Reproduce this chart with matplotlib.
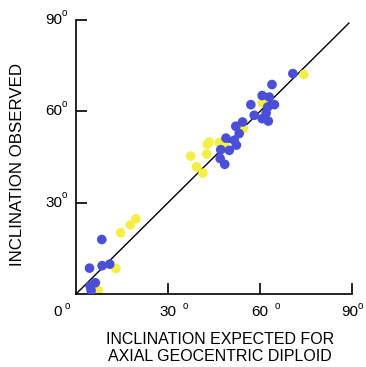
import matplotlib.pyplot as plt
from matplotlib.transforms import offset_copy

plt.rcParams['font.family'] = ['Liberation Sans', 'DejaVu Sans']

# expected vs observed inclination (degrees)
blue_expected = [70.7, 63.9, 60.7, 63.0, 57.0, 64.7, 62.5, 62.0, 58.1, 60.7, 62.7,
                 54.3, 52.1, 53.2, 48.9, 51.6, 52.3, 47.2, 50.0, 47.0, 48.5,
                 8.4, 4.4, 8.5, 11.0, 6.3, 4.6, 4.9]
blue_observed = [72.4, 68.8, 65.2, 64.7, 62.2, 62.2, 61.4, 59.4, 58.7, 57.6, 56.8,
                 56.5, 55.1, 52.7, 51.2, 50.5, 48.9, 47.4, 47.2, 44.5, 42.6,
                 17.9, 8.5, 9.3, 9.8, 3.7, 2.6, 1.2]
yellow_expected = [74.3, 60.7, 54.6, 43.4, 42.8, 46.7, 48.3, 37.4, 42.6, 39.3, 41.4,
                   14.5, 17.7, 19.5, 13.0, 7.2]
yellow_observed = [72.1, 62.8, 54.3, 49.9, 49.2, 49.7, 49.1, 45.3, 46.0, 41.8, 39.7,
                   20.1, 22.7, 24.7, 8.4, 1.2]
ticks = [30, 60, 90]

fig = plt.figure(figsize=(3.66, 3.67), dpi=100)
ax = fig.add_axes([0.2077, 0.1989, 0.7541, 0.7466])
ax.set_xlim(0, 90)
ax.set_ylim(0, 90)

ax.plot([0, 89], [0, 89], color='black', lw=1.0, zorder=1)
ax.scatter(yellow_expected, yellow_observed, s=48, color='#f3ef45', edgecolors='none', zorder=2)
ax.scatter(blue_expected, blue_observed, s=48, color='#4a4fd8', edgecolors='none', zorder=3)

for side in ['top', 'right']:
    ax.spines[side].set_visible(False)
for side in ['left', 'bottom']:
    ax.spines[side].set_linewidth(1.2)
ax.set_xticks(ticks)
ax.set_yticks(ticks)
ax.tick_params(direction='in', length=8, width=1.2, labelbottom=False, labelleft=False)


def label(x, y, txt, dx, dy, size, **kw):
    tr = offset_copy(ax.transData, fig=fig, x=dx, y=dy, units='points')
    ax.text(x, y, txt, transform=tr, fontsize=size, **kw)


fs = 11
# tick labels with a small raised "o" as the degree mark
for v in ticks:
    # last label sits a little to the left so it stays inside the figure
    shift = -1.8 if v == 90 else 0
    label(v, 0, str(v), shift, -13, fs, ha='center', va='center')
    label(v, 0, 'o', 6.0 if v == 90 else 12.6, -8.8, 7, ha='center', va='center')
    label(0, v, str(v), -10, 0, fs, ha='right', va='center')
    label(0, v, 'o', -8.3, 5.4, 7, ha='center', va='center')
label(0, 0, '0', -13, -13, fs, ha='center', va='center')
label(0, 0, 'o', -6.5, -8.8, 7, ha='center', va='center')

fig.text(0.600, 0.052, 'INCLINATION EXPECTED FOR\nAXIAL GEOCENTRIC DIPLOID',
         ha='center', va='center', fontsize=11.5, linespacing=1.15)
fig.text(0.047, 0.552, 'INCLINATION OBSERVED', rotation=90,
         ha='center', va='center', fontsize=12.2)

fig.savefig('out.png', dpi=100)
